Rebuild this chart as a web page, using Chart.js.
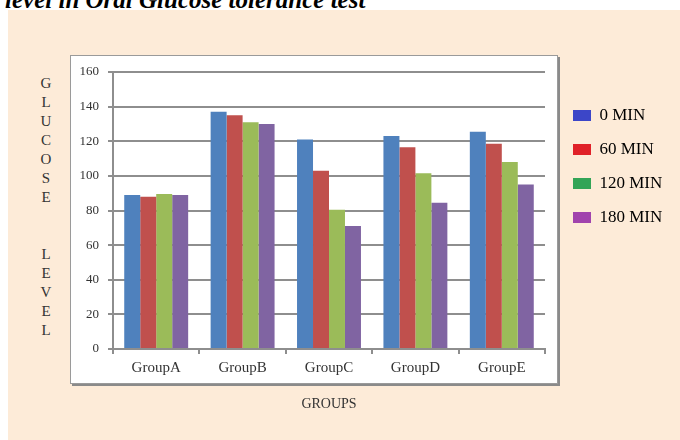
<!DOCTYPE html>
<html>
<head>
<meta charset="utf-8">
<script src="https://cdn.jsdelivr.net/npm/chart.js@4.4.0/dist/chart.umd.min.js"></script>
<style>
  body { margin: 0; width: 680px; height: 440px; overflow: hidden; background: #fff; position: relative; font-family: "Liberation Serif", serif; }
  .caption { position: absolute; left: 5px; top: -12px; font: italic bold 25px/24px "Liberation Serif", serif; white-space: nowrap; color: #000; }
  .panel { position: absolute; left: 8px; top: 10px; right: 0; bottom: 0; background: #fdebd8; }
  .plotbox { position: absolute; left: 70px; top: 55px; width: 486px; height: 327px; background: #fff; border: 1px solid #9a9a9a; box-shadow: 2px 2px 0 #8a8a8a; }
  .ytitle { position: absolute; left: 39px; top: 74px; width: 14px; text-align: center; font-size: 15px; line-height: 19px; color: #333; white-space: pre; }
  canvas { position: absolute; left: 0; top: 0; }
</style>
</head>
<body>
<div class="caption">level in Oral Glucose tolerance test</div>
<div class="panel"></div>
<div class="plotbox"></div>
<div class="ytitle" id="ytitle"></div>
<canvas id="chart" width="680" height="440"></canvas>
<script>
// data
const groups = ["GroupA", "GroupB", "GroupC", "GroupD", "GroupE"];
const seriesNames = ["0 MIN", "60 MIN", "120 MIN", "180 MIN"];
const min0 = [89, 137, 121, 123, 125.5];
const min60 = [88, 135, 103, 116.5, 118.5];
const min120 = [89.5, 131, 80.5, 101.5, 108];
const min180 = [89, 130, 71, 84.5, 95];
const yTicks = [0, 20, 40, 60, 80, 100, 120, 140, 160];
const yTitle = "GLUCOSE LEVEL";
const xTitle = "GROUPS";

const barColors = ["#4f81bd", "#c0504d", "#9bbb59", "#8064a2"];
const legendColors = ["#3c46c8", "#e02128", "#33a457", "#a143ad"];
const axisGray = "#8e8e8e";
const serif = "'Liberation Serif', 'DejaVu Serif', serif";

// stacked letters for the y title
document.getElementById("ytitle").textContent =
    yTitle.split("").map(c => c === " " ? "\n" : c).join("\n");

const series = [min0, min60, min120, min180];

// legend sits right of the plot box, not flush with the chart area
const legendSpot = {
    id: "legendSpot",
    afterLayout(chart) {
        const lg = chart.legend;
        lg.left = 556; lg.right = 680;
        lg.top = 90; lg.bottom = 440;
    }
};

new Chart(document.getElementById("chart"), {
    type: "bar",
    data: {
        labels: groups,
        datasets: series.map((vals, i) => ({
            label: seriesNames[i],
            data: vals,
            backgroundColor: barColors[i],
            borderWidth: 0,
            categoryPercentage: 0.74,
            barPercentage: 1
        }))
    },
    options: {
        responsive: false,
        animation: false,
        layout: { padding: { left: 70, top: 72, right: 75, bottom: 27 } },
        plugins: {
            tooltip: { enabled: false },
            legend: {
                position: "right",
                align: "start",
                maxWidth: 60,
                labels: {
                    boxWidth: 18,
                    boxHeight: 11,
                    padding: 17,
                    color: "#222",
                    font: { family: serif, size: 17 },
                    generateLabels: chart => chart.data.datasets.map((ds, i) => ({
                        text: ds.label,
                        fillStyle: legendColors[i],
                        strokeStyle: legendColors[i],
                        lineWidth: 0,
                        hidden: false,
                        datasetIndex: i
                    }))
                }
            }
        },
        scales: {
            x: {
                grid: { drawOnChartArea: false, color: axisGray, lineWidth: 2, tickLength: 5 },
                border: { color: axisGray, width: 2 },
                ticks: { color: "#333", padding: 5, font: { family: serif, size: 15 } },
                title: { display: true, text: xTitle, color: "#333", padding: 0, font: { family: serif, size: 14 } },
                afterFit: s => { s.height = 64; }
            },
            y: {
                min: yTicks[0],
                max: yTicks[yTicks.length - 1],
                ticks: { stepSize: yTicks[1] - yTicks[0], color: "#333", padding: 9, font: { family: serif, size: 13 } },
                grid: { color: axisGray, lineWidth: 2, tickLength: 5 },
                border: { color: axisGray, width: 2 },
                afterFit: s => { s.width = 43; }
            }
        }
    },
    plugins: [legendSpot]
});
</script>
</body>
</html>
